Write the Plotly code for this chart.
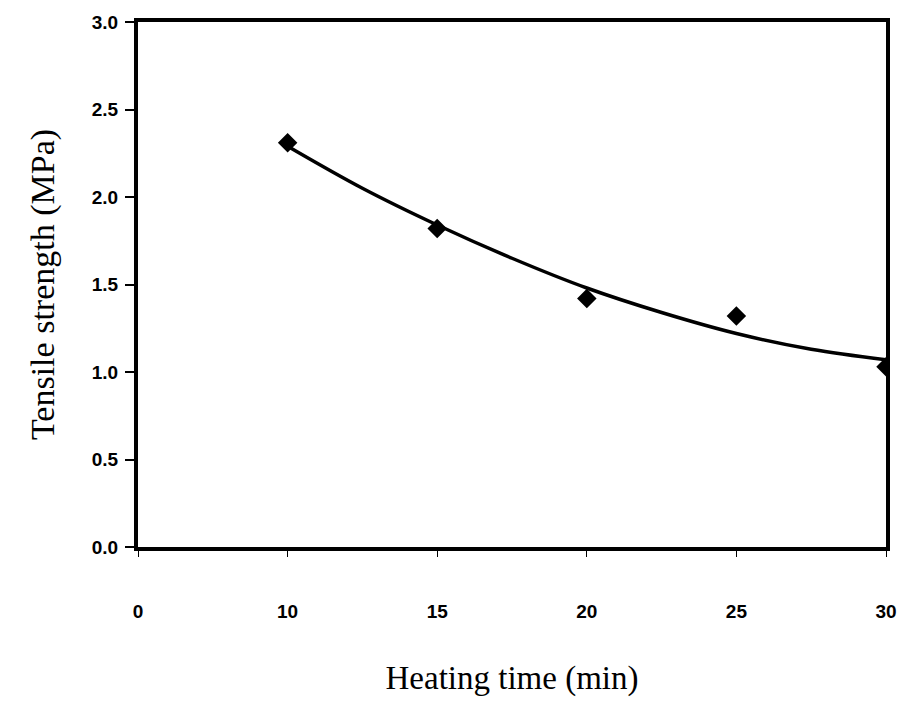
import plotly.graph_objects as go

# Categories on the x axis (Excel-style category axis)
categories = ["0", "10", "15", "20", "25", "30"]

# Measured points
point_cats = ["10", "15", "20", "25", "30"]
tensile = [2.31, 1.82, 1.42, 1.32, 1.03]

# Trend curve, at category positions (fractional between categories)
curve_pos = [1, 1.5, 2, 2.5, 3, 3.5, 4, 4.5, 5]
curve_val = [2.29, 2.05, 1.84, 1.65, 1.48, 1.34, 1.22, 1.13, 1.07]

y_ticks = [0.0, 0.5, 1.0, 1.5, 2.0, 2.5, 3.0]

cat_index = {c: i for i, c in enumerate(categories)}
px = [cat_index[c] for c in point_cats]

fig = go.Figure()
fig.add_trace(go.Scatter(
    x=curve_pos, y=curve_val, mode="lines", line=dict(color="black", width=3.5, shape="spline"),
    showlegend=False, hoverinfo="skip"))
fig.add_trace(go.Scatter(
    x=px, y=tensile, mode="markers",
    marker=dict(symbol="diamond", size=15, color="black"), showlegend=False))

tick_font = dict(family="Liberation Sans, Arial", size=19, weight="bold", color="black")
fig.update_layout(
    width=909, height=706,
    margin=dict(l=138, r=19, t=22, b=159),
    paper_bgcolor="white", plot_bgcolor="white",
    font=dict(family="Liberation Sans, Arial", color="black", size=19),
)
fig.update_xaxes(
    range=[0, len(categories) - 1],
    tickmode="array", tickvals=list(range(len(categories))), ticktext=categories,
    showgrid=False, zeroline=False,
    showline=True, linecolor="black", linewidth=4, mirror=True,
    ticks="outside", ticklen=6, tickcolor="black", tickwidth=1,
    ticklabelstandoff=38,
    tickfont=tick_font,
    title=dict(text="Heating time (min)", font=dict(family="Liberation Serif, Times New Roman", size=33), standoff=46),
)
fig.update_yaxes(
    range=[0, 3.0],
    tickmode="array", tickvals=y_ticks, ticktext=[f"{v:.1f}" for v in y_ticks],
    showgrid=False, zeroline=False,
    showline=True, linecolor="black", linewidth=4, mirror=True,
    ticks="outside", ticklen=9, tickcolor="black", tickwidth=1.5,
    ticklabelstandoff=3,
    tickfont=tick_font,
    title=dict(text="Tensile strength (MPa)", font=dict(family="Liberation Serif, Times New Roman", size=34), standoff=28),
)

fig.write_html("out.html")
